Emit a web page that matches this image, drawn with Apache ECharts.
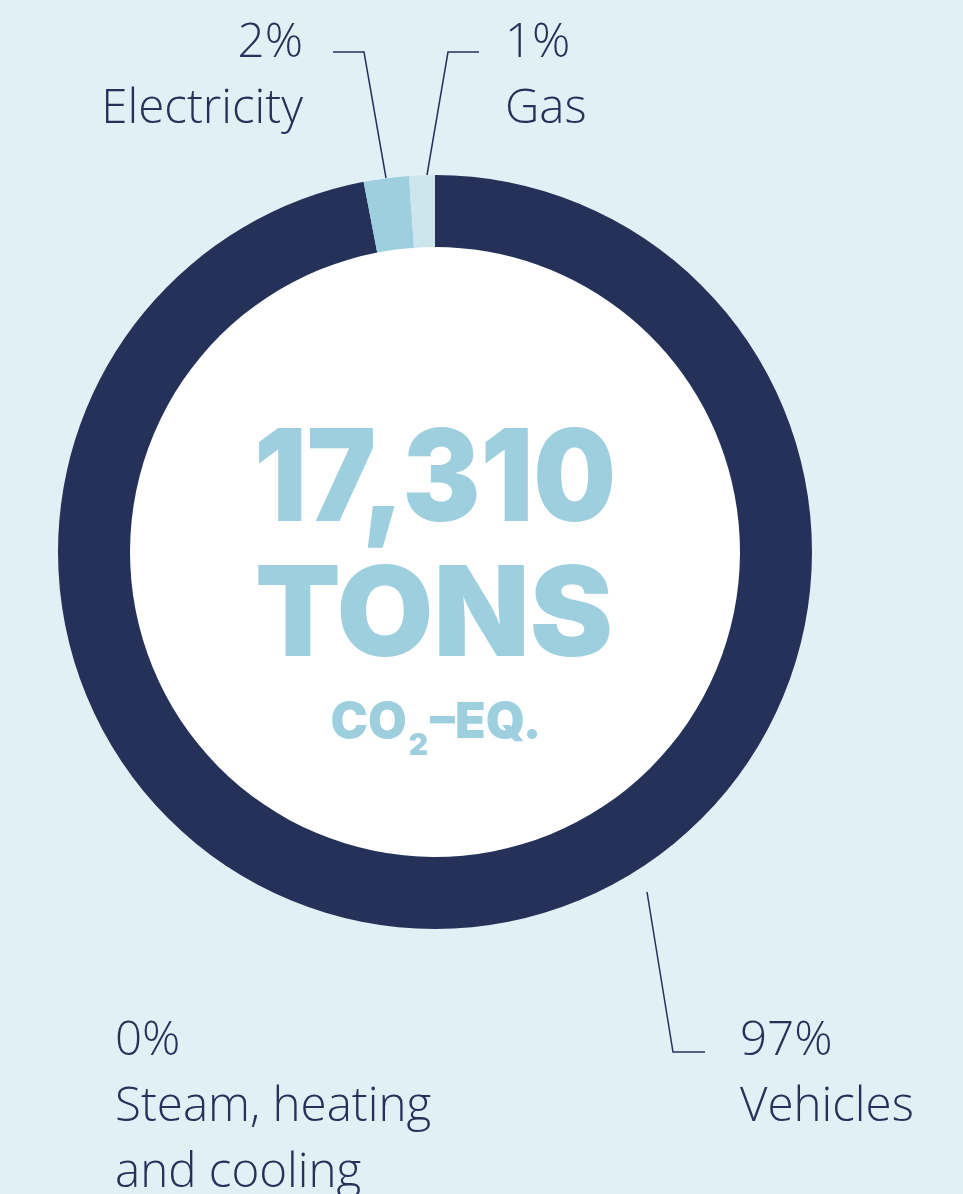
<!DOCTYPE html>
<html>
<head>
<meta charset="utf-8">
<script src="https://cdn.jsdelivr.net/npm/echarts@6/dist/echarts.min.js"></script>
<style>
html,body{margin:0;padding:0;background:#e1f0f5;}
#chart{width:963px;height:1194px;}
</style>
</head>
<body>
<div id="chart"></div>
<script>
// Data (tons CO2-eq)
const categories = ['Vehicles', 'Steam, heating\nand cooling', 'Electricity', 'Gas'];
const values = [16785, 0, 335, 190];
const totalLabel = '17,310';
const unitLabel = 'TONS';
const colors = ['#253158', '#7fb6c9', '#9ecfdf', '#cde6ee'];

// Label placement (layout only)
const labelPlace = {
  0: {x: 740, y: 1008, align: 'left', line: [[647, 892], [673, 1052], [705, 1052]]},
  1: {x: 115, y: 1008, align: 'left', line: null},
  2: {x: 303, y: 10, align: 'right', line: [[386, 178], [364, 52], [333, 52]]},
  3: {x: 505, y: 10, align: 'left', line: [[427, 175], [448, 52], [479, 52]]}
};

const chart = echarts.init(document.getElementById('chart'));
const navy = '#253158';
const light = '#9ecfdf';

chart.setOption({
  backgroundColor: '#e1f0f5',
  animation: false,
  series: [
    {
      type: 'pie',
      center: [435, 552],
      radius: [0, 305],
      silent: true,
      label: {show: false},
      labelLine: {show: false},
      itemStyle: {color: '#ffffff'},
      data: [{value: 1, name: 'hole'}],
      z: 1
    },
    {
      type: 'pie',
      center: [435, 552],
      radius: [305, 377],
      startAngle: 90,
      clockwise: true,
      avoidLabelOverlap: false,
      stillShowZeroSum: true,
      minShowLabelAngle: 0,
      silent: true,
      data: categories.map((c, i) => ({
        name: c,
        value: values[i],
        itemStyle: {color: colors[i]},
        labelLine: {show: !!labelPlace[i].line}
      })),
      label: {
        show: true,
        formatter: p => '{p|' + Math.round(p.percent) + '%}\n{n|' + p.name.split('\n').join('}\n{n|') + '}',
        rich: {
          p: {fontFamily: 'Open Sans', fontWeight: 300, fontSize: 47.5, lineHeight: 66, color: navy},
          n: {fontFamily: 'Open Sans', fontWeight: 300, fontSize: 47.5, lineHeight: 66, color: navy}
        }
      },
      labelLine: {
        show: true,
        length: 20,
        length2: 20,
        lineStyle: {color: navy, width: 1.5}
      },
      labelLayout: function (params) {
        const pl = labelPlace[params.dataIndex];
        const out = {x: pl.x, y: pl.y, align: pl.align, verticalAlign: 'top'};
        if (pl.line) out.labelLinePoints = pl.line;
        return out;
      },
      z: 2
    }
  ],
  graphic: [
    {
      type: 'text',
      x: 435, y: 483, scaleX: 0.91,
      z: 10,
      style: {
        text: totalLabel,
        font: '900 128px Inter',
        fill: light,
        textAlign: 'center',
        textVerticalAlign: 'middle'
      }
    },
    {
      type: 'text',
      x: 434, y: 618, scaleX: 1.0,
      z: 10,
      style: {
        text: unitLabel,
        font: '900 125px Inter',
        fill: light,
        textAlign: 'center',
        textVerticalAlign: 'middle'
      }
    },
    {
      type: 'text',
      x: 436, y: 723,
      z: 10,
      style: {
        text: '{a|CO}{s|2}{a|–EQ.}',
        fill: light,
        textAlign: 'center',
        textVerticalAlign: 'middle',
        rich: {
          a: {font: '900 50px Inter', fill: light, lineHeight: 76, verticalAlign: 'middle'},
          s: {font: '900 30px Inter', fill: light, lineHeight: 30, verticalAlign: 'bottom', padding: [0, 2, 0, 2]}
        }
      }
    }
  ]
});
</script>
</body>
</html>
